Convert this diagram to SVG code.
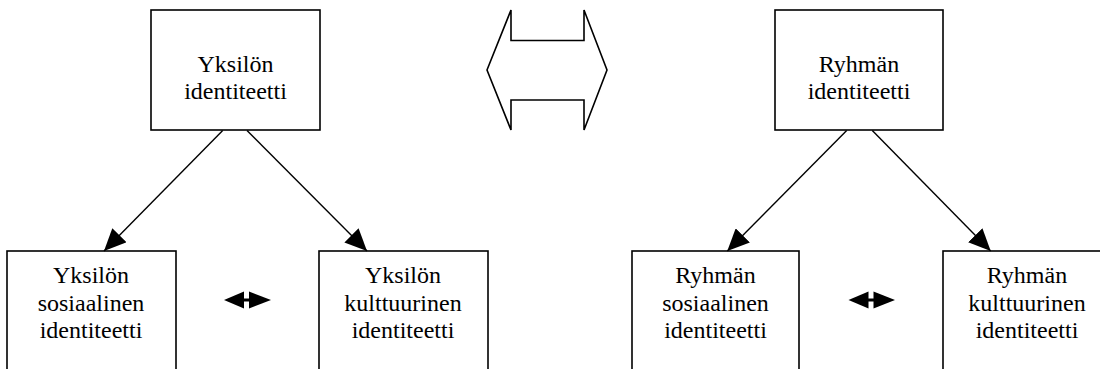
<svg xmlns="http://www.w3.org/2000/svg" width="1100" height="369" viewBox="0 0 1100 369" font-family="Liberation Serif, serif">
<style>
.box{fill:#fff;stroke:#000;stroke-width:1.6}
.lbl{font-size:24px;fill:#000;text-anchor:middle}
.conn{stroke:#000;stroke-width:1.4;fill:none}
</style>
<defs>
<marker id="ah" markerUnits="userSpaceOnUse" viewBox="0 0 22 20" refX="22" refY="10" markerWidth="22" markerHeight="20" orient="auto">
<path d="M0,0 L22,10 L0,20 z" fill="#000"/>
</marker>
</defs>
<rect width="1100" height="369" fill="#fff"/>
<g id="yksilon-identiteetti">
<rect class="box" x="151" y="10" width="169" height="120"/>
<text class="lbl" x="235.5" y="72">Yksilön</text>
<text class="lbl" x="235.5" y="99">identiteetti</text>
</g>
<g id="ryhman-identiteetti">
<rect class="box" x="775" y="10" width="168" height="120"/>
<text class="lbl" x="859" y="72">Ryhmän</text>
<text class="lbl" x="859" y="99">identiteetti</text>
</g>
<g id="iso-nuoli">
<polygon class="box" points="487,70 511,10 511,40.5 584,40.5 584,10 607,70 584,130 584,100 511,100 511,130"/>
</g>
<g id="yksilon-sosiaalinen">
<rect class="box" x="7" y="251" width="169" height="130"/>
<text class="lbl" x="91" y="283">Yksilön</text>
<text class="lbl" x="91" y="310.5">sosiaalinen</text>
<text class="lbl" x="91" y="337.5">identiteetti</text>
</g>
<g id="yksilon-kulttuurinen">
<rect class="box" x="319" y="251" width="169" height="130"/>
<text class="lbl" x="403" y="283">Yksilön</text>
<text class="lbl" x="403" y="310.5">kulttuurinen</text>
<text class="lbl" x="403" y="337.5">identiteetti</text>
</g>
<g id="ryhman-sosiaalinen">
<rect class="box" x="632" y="251" width="167" height="130"/>
<text class="lbl" x="715.5" y="283">Ryhmän</text>
<text class="lbl" x="715.5" y="310.5">sosiaalinen</text>
<text class="lbl" x="715.5" y="337.5">identiteetti</text>
</g>
<g id="ryhman-kulttuurinen">
<rect class="box" x="943" y="251" width="168" height="130"/>
<text class="lbl" x="1027" y="283">Ryhmän</text>
<text class="lbl" x="1027" y="310.5">kulttuurinen</text>
<text class="lbl" x="1027" y="337.5">identiteetti</text>
</g>
<g id="connectors">
<line class="conn" x1="222.7" y1="130.5" x2="104" y2="251" marker-end="url(#ah)"/>
<line class="conn" x1="247" y1="130.5" x2="367" y2="251" marker-end="url(#ah)"/>
<line class="conn" x1="846.7" y1="130.5" x2="727.3" y2="251" marker-end="url(#ah)"/>
<line class="conn" x1="872.3" y1="130.5" x2="990.7" y2="251" marker-end="url(#ah)"/>
<g id="pieni-nuoli-1">
<polygon points="224,300 244,291.5 244,308.5" fill="#000"/>
<line x1="243" y1="300" x2="250" y2="300" stroke="#000" stroke-width="3"/>
<polygon points="249,291.5 249,308.5 271,300" fill="#000"/>
</g>
<g id="pieni-nuoli-2">
<polygon points="848.5,300 868.5,291.5 868.5,308.5" fill="#000"/>
<line x1="867.5" y1="300" x2="874.5" y2="300" stroke="#000" stroke-width="3"/>
<polygon points="873.5,291.5 873.5,308.5 895,300" fill="#000"/>
</g>
</g>
</svg>
